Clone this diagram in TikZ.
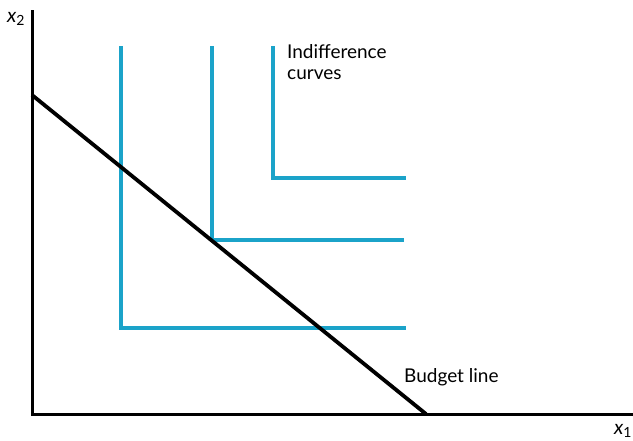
\documentclass[tikz,border=0pt]{standalone}
\usepackage{fontspec}
\setmainfont{Lato}
\definecolor{icurve}{HTML}{1BA3C9}
\begin{document}
\begin{tikzpicture}[x=1pt,y=-1pt,
  axis/.style={line width=3pt},
  budget/.style={line width=3.8pt},
  ic/.style={icurve,line width=3.4pt},
  lbl/.style={font=\fontsize{19}{21}\selectfont,inner sep=0pt,anchor=north west,align=left}]
\useasboundingbox (0,0) rectangle (633,440);
% axes
\coordinate (O) at (32,414);
\coordinate (Ytop) at (32,10);
\coordinate (Xend) at (633,414);
\draw[axis] (Ytop) -- (O) -- (Xend);
\node[inner sep=0pt] (x2) at (16,19) {\fontsize{20}{22}\selectfont\textit{x}\textsubscript{2}};
\node[inner sep=0pt] (x1) at (623,431) {\fontsize{20}{22}\selectfont\textit{x}\textsubscript{1}};
% indifference curves
\coordinate (a1) at (121,46); \coordinate (a2) at (121,328); \coordinate (a3) at (406,328);
\coordinate (b1) at (212,46); \coordinate (b2) at (212,240); \coordinate (b3) at (404,240);
\coordinate (c1) at (273,46); \coordinate (c2) at (273,178); \coordinate (c3) at (406,178);
\draw[ic] (a1) -- (a2) -- (a3);
\draw[ic] (b1) -- (b2) -- (b3);
\draw[ic] (c1) -- (c2) -- (c3);
% budget line
\coordinate (B1) at (32,95);
\coordinate (B2) at (426,414);
\draw[budget] (B1) -- (B2);
\node[lbl] (ind) at (287,44) {Indifference\\curves};
\node[lbl] (bud) at (404,368) {Budget line};
\end{tikzpicture}
\end{document}
